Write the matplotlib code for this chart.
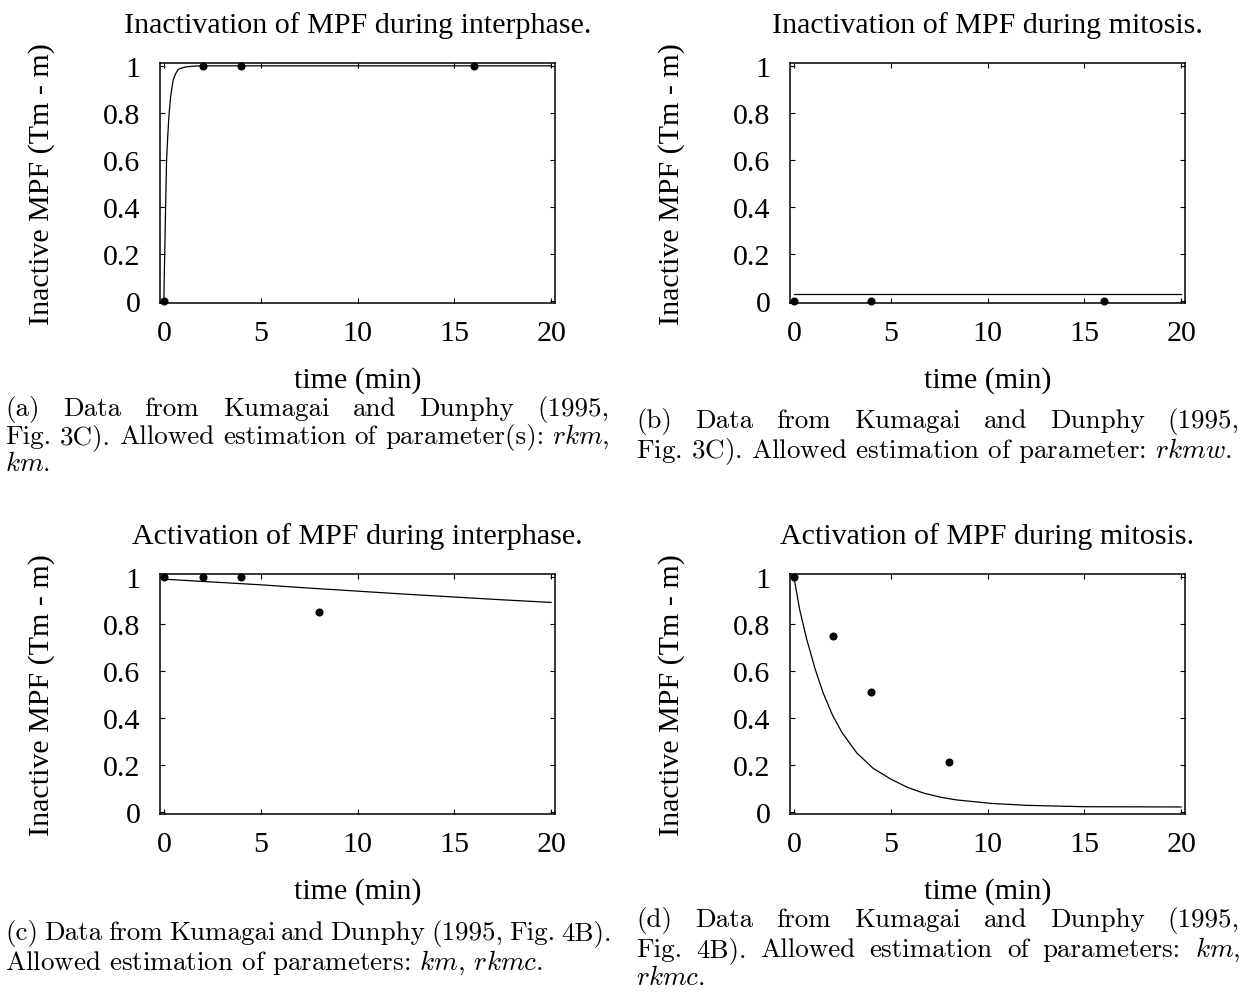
import matplotlib
matplotlib.use("Agg")
import matplotlib.pyplot as plt
from matplotlib.ticker import FixedLocator, FixedFormatter
from matplotlib.transforms import IdentityTransform

plt.rcParams['mathtext.fontset'] = 'cm'

# ---------------- data ----------------
titles = ["Inactivation of MPF during interphase.",
          "Inactivation of MPF during mitosis.",
          "Activation of MPF during interphase.",
          "Activation of MPF during mitosis."]
xlabel = "time (min)"
ylabel = "Inactive MPF (Tm - m)"
xticks = [0, 5, 10, 15, 20]
xtick_labels = ["0", "5", "10", "15", "20"]
yticks = [0, 0.2, 0.4, 0.6, 0.8, 1.0]
ytick_labels = ["0", "0.2", "0.4", "0.6", "0.8", "1"]

# (a) inactivation, interphase
a_pts_t = [0, 2, 4, 16]
a_pts_y = [0, 1, 1, 1]
a_fit_t = [0, 0.02, 0.05, 0.09, 0.14, 0.2, 0.26, 0.35, 0.48, 0.6, 0.74, 0.9, 1.17, 1.6, 2, 4, 16, 20]
a_fit_y = [0, 0.10, 0.22, 0.40, 0.60, 0.70, 0.785, 0.87, 0.94, 0.965, 0.985, 0.99, 0.996, 0.999, 1, 1, 1, 1]

# (b) inactivation, mitosis
b_pts_t = [0, 4, 16]
b_pts_y = [0, 0, 0]
b_fit_t = [0, 5, 10, 15, 20]
b_fit_y = [0.028, 0.028, 0.028, 0.028, 0.028]

# (c) activation, interphase
c_pts_t = [0, 2, 4, 8]
c_pts_y = [1, 1, 1, 0.85]
c_fit_t = [0, 2.5, 5, 7.5, 10, 12.5, 15, 17.5, 20]
c_fit_y = [0.99, 0.978, 0.966, 0.952, 0.939, 0.926, 0.914, 0.902, 0.891]

# (d) activation, mitosis
d_pts_t = [0, 2, 4, 8]
d_pts_y = [1, 0.75, 0.51, 0.21]
d_fit_t = [0, 0.15, 0.3, 0.66, 1.1, 1.5, 2.0, 2.5, 3.25, 4.1, 5.0, 5.85, 6.7, 7.6, 8.4, 10.2, 12, 15, 20]
d_fit_y = [1.0, 0.93, 0.86, 0.735, 0.607, 0.508, 0.41, 0.335, 0.25, 0.184, 0.139, 0.104, 0.079, 0.061, 0.05, 0.035, 0.027, 0.021, 0.02]

cap_a = ["(a) Data from Kumagai and Dunphy (1995,",
         "Fig. 3C). Allowed estimation of parameter(s): $rkm$,",
         "$km$."]
cap_b = ["(b) Data from Kumagai and Dunphy (1995,",
         "Fig. 3C). Allowed estimation of parameter: $rkmw$."]
cap_c = ["(c) Data from Kumagai and Dunphy (1995, Fig. 4B).",
         "Allowed estimation of parameters: $km$, $rkmc$."]
cap_d = ["(d) Data from Kumagai and Dunphy (1995,",
         "Fig. 4B). Allowed estimation of parameters: $km$,",
         "$rkmc$."]

# ---------------- layout ----------------
W, H = 1245, 1004
fig = plt.figure(figsize=(W / 100, H / 100), dpi=100)
SERIF = "Liberation Serif"
FS = 21.6

def rect(l, t, w=395, h=240):
    return [l / W, 1 - (t + h) / H, w / W, h / H]

panels = [
    (rect(160, 64), titles[0], a_pts_t, a_pts_y, a_fit_t, a_fit_y),
    (rect(790, 64), titles[1], b_pts_t, b_pts_y, b_fit_t, b_fit_y),
    (rect(160, 575), titles[2], c_pts_t, c_pts_y, c_fit_t, c_fit_y),
    (rect(790, 575), titles[3], d_pts_t, d_pts_y, d_fit_t, d_fit_y),
]

for r, title, pt, py, ft, fy in panels:
    ax = fig.add_axes(r)
    ax.plot(ft, fy, color="black", lw=0.9, zorder=2)
    ax.plot(pt, py, "o", color="black", ms=4.8, zorder=3, clip_on=False)
    ax.set_xlim(-0.2, 20.2)
    ax.set_ylim(-0.01, 1.012)
    ax.xaxis.set_major_locator(FixedLocator(xticks))
    ax.xaxis.set_major_formatter(FixedFormatter(xtick_labels))
    ax.yaxis.set_major_locator(FixedLocator(yticks))
    ax.yaxis.set_major_formatter(FixedFormatter(ytick_labels))
    ax.tick_params(direction="in", top=True, right=True, length=3.6, width=0.8,
                   labelsize=FS)
    ax.tick_params(axis="x", pad=12.5)
    ax.tick_params(axis="y", pad=14)
    for lab in ax.get_xticklabels() + ax.get_yticklabels():
        lab.set_fontfamily(SERIF)
    for s in ax.spines.values():
        s.set_linewidth(1.1)
    ax.set_title(title, fontsize=FS, family=SERIF, pad=22)
    ax.set_xlabel(xlabel, fontsize=FS, family=SERIF)
    ax.set_ylabel(ylabel, fontsize=FS, family=SERIF)
    ax.xaxis.set_label_coords(0.5, -0.262)
    ax.yaxis.set_label_coords(-0.267, 0.5)

# ---------------- captions ----------------
renderer = fig.canvas.get_renderer()
CAP = "cmr10"
probe = fig.text(0, 0, cap_c[1], fontsize=10, family=CAP, transform=IdentityTransform())
w10 = probe.get_window_extent(renderer).width
probe.remove()
cap_fs = 10 * 540 / w10

def place(lines, flags, x0, x1, baselines):
    for line, just, yb in zip(lines, flags, baselines):
        yd = H - yb
        if not just:
            fig.text(x0, yd, line, fontsize=cap_fs, family=CAP, va="baseline",
                     ha="left", transform=IdentityTransform())
            continue
        words = line.split(" ")
        objs = [fig.text(0, yd, w, fontsize=cap_fs, family=CAP, va="baseline",
                         ha="left", transform=IdentityTransform()) for w in words]
        widths = [o.get_window_extent(renderer).width for o in objs]
        gap = (x1 - x0 - sum(widths)) / (len(words) - 1)
        x = x0
        for o, w in zip(objs, widths):
            o.set_x(x)
            x += w + gap

place(cap_a, [True, True, False], 5, 610, [416, 444, 471])
place(cap_b, [True, False], 636, 1240, [428, 458])
place(cap_c, [True, False], 5, 612, [940, 970])
place(cap_d, [True, True, False], 636, 1240, [927, 957, 985])

fig.savefig("out.png", dpi=100)
